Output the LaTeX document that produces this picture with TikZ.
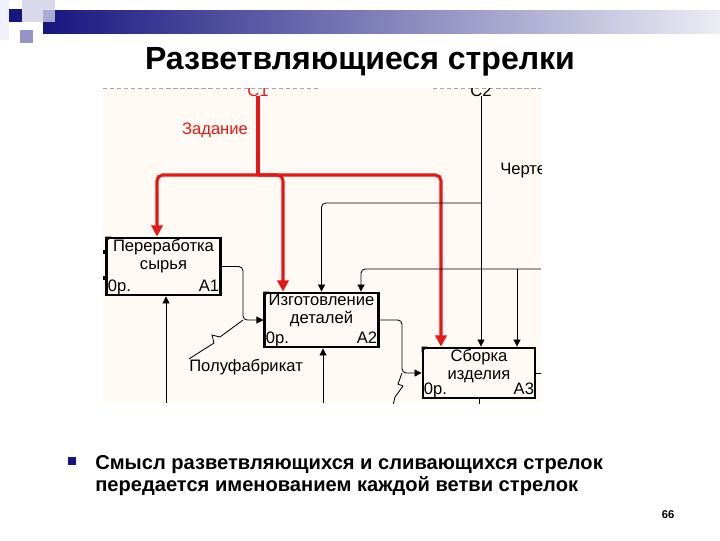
\documentclass[tikz,border=0pt]{standalone}
\usepackage{fontspec}
\setmainfont{Liberation Sans}
\usetikzlibrary{arrows.meta}
\definecolor{navy}{RGB}{22,22,128}
\definecolor{paper}{RGB}{255,250,243}
\definecolor{ctlred}{RGB}{232,22,22}
\newcommand{\boxfont}{\fontsize{11.8}{13.2}\selectfont}
\tikzset{
  func/.style={draw, line width=2pt, fill=paper, inner sep=0pt, minimum width=2.83cm},
  fname/.style={anchor=north, inner sep=1.5pt, align=center, font=\boxfont},
  fcost/.style={anchor=south west, inner sep=1.5pt, text height=0.72em, text depth=0.18em, font=\boxfont},
  fnum/.style={anchor=south east, inner sep=1.5pt, text height=0.72em, text depth=0.18em, font=\boxfont},
  wire/.style={line width=0.6pt},
  flow/.style={wire, -{Triangle[length=5pt,width=5pt]}},
  task/.style={draw=ctlred, line width=2.2pt, rounded corners=4pt, -{Triangle[length=8pt,width=8pt]}},
  lbl/.style={font=\boxfont, inner sep=0pt},
}
\begin{document}
\begin{tikzpicture}[x=0.025cm, y=-0.025cm]
  \useasboundingbox (0,0) rectangle (720,540);
  % header
  \fill[blue!6!white] (0,0) rectangle (9,40);
  \shade[left color=navy, right color=navy!8!white] (43,10) rectangle (720,33);
  \fill[navy!20!white, opacity=0.8] (22,0) rectangle (55,22);
  \fill[navy] (9,9) rectangle (22,22);
  \fill[navy!45!white] (20,30) rectangle (33,43);
  \node (title) [font=\bfseries\fontsize{22.8}{27}\selectfont] at (360,62) {Разветвляющиеся стрелки};

  \begin{scope}
    \clip (103,88) rectangle (541,403);
    \fill[paper] (103,88) rectangle (541,403);
    \draw[gray!70, densely dashed, line width=1pt] (103,88) -- (318,88);
    \draw[gray!70, densely dashed, line width=1pt] (433,88) -- (541,88);

    \node (A1) [func, minimum height=1.425cm,
      label={[fname]north:Переработка\\сырья},
      label={[fcost]south west:0р.},
      label={[fnum]south east:A1}] at (163.5,266.5) {};
    \node (A2) [func, minimum height=1.35cm,
      label={[fname]north:Изготовление\\деталей},
      label={[fcost]south west:0р.},
      label={[fnum]south east:A2}] at (321.5,320) {};
    \node (A3) [func, minimum width=2.8cm, minimum height=1.25cm,
      label={[fname]north:Сборка\\изделия},
      label={[fcost]south west:0р.},
      label={[fnum]south east:A3}] at (479,373) {};
    \fill (A1.north west) -- ++(6,0) -- ++(-6,6) -- cycle;
    \fill (A2.north west) -- ++(6,0) -- ++(-6,6) -- cycle;
    \fill (A3.north west) -- ++(6,0) -- ++(-6,6) -- cycle;

    \node (C1) [lbl, text=ctlred, anchor=base] at (258,96) {C1};
    \node (C2) [lbl, anchor=base] at (481,96) {C2};
    \node (zad) [lbl, text=ctlred] at (215,130) {Задание};
    \node (draw) [lbl, anchor=west] at (500,171) {Чертежи};
    \node (semi) [lbl, anchor=west] at (189,367) {Полуфабрикат};

    % branching control
    \coordinate (split) at (258,175);
    \coordinate (b1) at (157,175);
    \coordinate (b2) at (283,175);
    \coordinate (b3) at (441,175);
    \draw[task, -] (C1.south) -- (split);
    \draw[task] (split) -| (b1 |- A1.north);
    \draw[task] (split) -| (b2 |- A2.north);
    \draw[task] (split) -| (b3 |- A3.north);

    \coordinate (j2) at (481,203);
    \draw[flow] (C2.south) -- (C2.south |- A3.north);
    \draw[flow, rounded corners=3pt] (j2) -| (A2.north);
    \coordinate (k0) at (541,269);
    \coordinate (k1) at (517,269);
    \coordinate (k2) at (361,269);
    \draw[flow, rounded corners=3pt] (k0) -| (k2 |- A2.north);
    \draw[flow] (k1) -- (k1 |- A3.north);

    % outputs
    \coordinate (j3) at (243,320);
    \draw[flow, rounded corners=3pt] (A1.east) -| (j3) -- (A2.west);
    \draw[wire] (j3) -- (220,337) -- (212,335) -- (214,343) -- (semi.north west);
    \coordinate (j4) at (402,373);
    \draw[flow, rounded corners=3pt] (A2.east) -| (j4) -- (A3.west);
    \draw[wire] (j4) -- (398,384) -- (403,386) -- (395,397) -- (393,405);

    % mechanisms
    \coordinate (m1) at (166,403);
    \coordinate (m2) at (323,403);
    \draw[flow] (m1) -- (m1 |- A1.south);
    \draw[flow] (m2) -- (m2 |- A2.south);
    \draw[wire] (A3.south) -- ++(0,6);
    \draw[wire] (A3.east) -- ++(6,0);

    \coordinate (i1) at (103,252);
    \coordinate (i2) at (103,278);
    \draw[line width=3pt] (i1) -- (i1 -| A1.west);
    \draw[line width=3pt] (i2) -- (i2 -| A1.west);
  \end{scope}

  \fill[navy] (68,457) rectangle (76,465);
  \node (note) [anchor=north west, align=left, inner sep=0pt, font=\bfseries\fontsize{14.3}{15.5}\selectfont] at (95,455)
    {Смысл разветвляющихся и сливающихся стрелок\\передается именованием каждой ветви стрелок};
  \node (page) [font=\bfseries\fontsize{8}{9}\selectfont] at (668,515) {66};
\end{tikzpicture}
\end{document}
